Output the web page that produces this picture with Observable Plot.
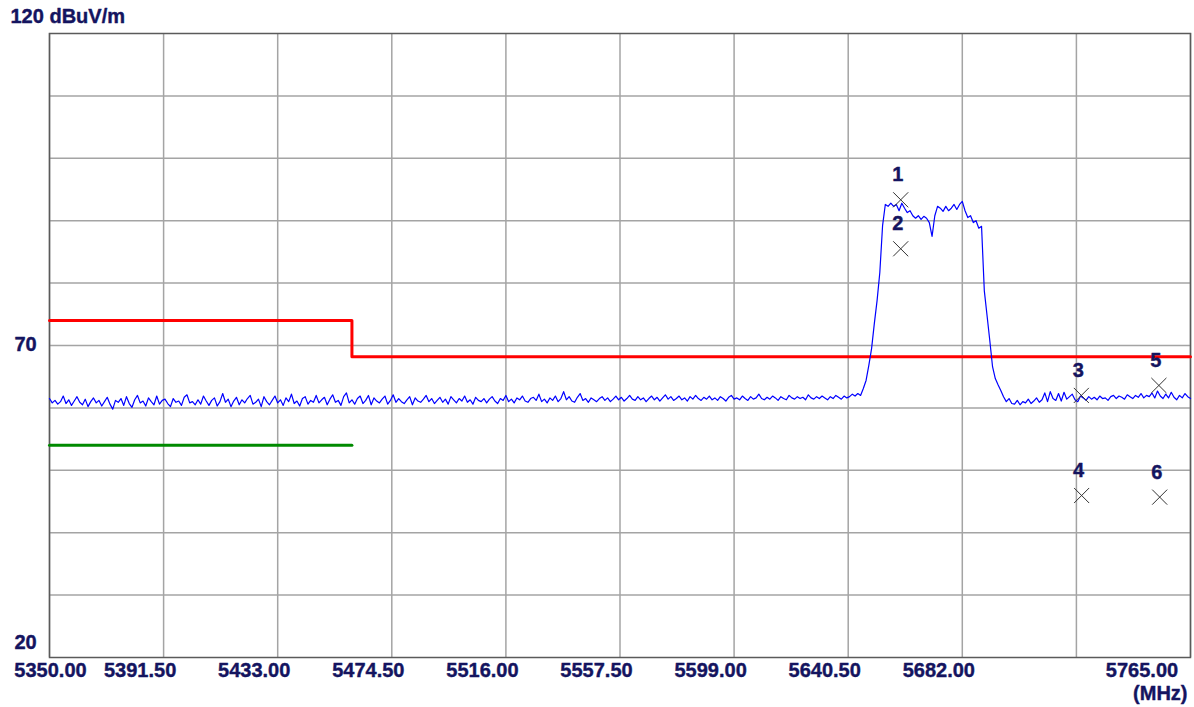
<!DOCTYPE html>
<html>
<head>
<meta charset="utf-8">
<script src="https://cdn.jsdelivr.net/npm/d3@7"></script>
<script src="https://cdn.jsdelivr.net/npm/@observablehq/plot@0.6"></script>
<style>
  html, body { margin: 0; padding: 0; background: #ffffff; }
  #chart svg { display: block; }
</style>
</head>
<body>
<div id="chart"></div>
<script>
// ---- data ----
const freqStart = 5350;   // MHz, first trace sample
const freqStep = 1;       // MHz between trace samples

// trace level (dBuV/m) 5350 .. 5644 MHz
const noiseLow = [
  61.5,60.8,61.2,60.6,61.0,61.9,60.7,61.3,60.4,61.1,61.8,60.9,60.5,61.4,60.2,61.0,61.6,60.8,61.2,60.3,
  61.0,61.7,60.6,59.8,61.2,60.9,61.5,60.4,61.8,60.7,60.1,61.3,62.0,60.8,61.1,60.3,61.6,61.0,60.5,61.9,
  60.6,61.2,61.4,60.7,60.2,61.5,60.9,61.1,60.4,61.7,62.1,60.8,61.0,60.5,61.3,60.6,61.9,61.1,60.4,61.2,
  61.6,60.3,61.0,62.3,60.9,61.4,60.2,61.1,61.7,60.5,61.3,60.8,61.5,62.0,60.6,60.9,61.4,60.2,61.8,61.0,
  60.5,61.2,61.9,60.8,61.3,60.4,61.6,61.0,62.2,60.7,61.1,60.3,61.5,61.8,60.6,61.2,60.9,62.0,60.8,61.3,
  61.7,60.5,61.4,62.1,60.9,61.2,60.4,61.8,62.4,60.8,61.3,60.6,61.5,61.9,60.7,61.2,62.0,60.5,61.6,61.1,
  60.8,61.4,61.9,60.6,61.2,62.1,60.9,61.5,61.0,60.7,61.3,61.8,60.5,61.6,61.1,60.9,61.4,62.0,61.0,61.5,
  60.7,61.2,61.7,60.9,61.4,60.6,61.8,61.3,60.8,61.5,61.1,61.9,60.9,61.3,60.6,61.7,61.2,61.0,61.5,60.8,
  61.4,61.8,61.1,60.7,61.5,61.2,62.0,61.0,61.4,60.8,61.6,61.3,61.9,61.1,60.9,61.5,61.7,61.2,62.2,61.0,
  61.4,60.8,61.6,61.2,61.9,61.0,61.5,62.6,61.3,61.8,61.1,60.9,61.7,62.3,61.2,61.5,60.9,61.6,61.3,61.0,
  61.5,61.8,61.2,61.6,61.0,61.4,61.9,61.3,61.7,61.1,61.5,62.0,61.4,61.2,61.8,61.3,61.6,61.0,61.5,61.9,
  61.3,61.7,61.1,61.6,62.1,61.4,61.8,61.2,61.5,61.9,61.3,61.6,61.1,61.8,61.4,62.0,61.5,61.2,61.7,61.4,
  61.9,61.3,61.6,61.2,61.8,61.5,61.1,61.7,62.0,61.4,61.6,61.3,61.9,61.5,61.2,61.8,61.4,61.6,62.2,61.5,
  61.3,61.7,61.4,61.9,61.6,61.2,61.8,61.5,61.3,62.0,61.6,61.4,61.8,61.5,61.7,61.3,62.1,61.6,61.4,61.8,
  61.5,61.9,61.6,61.3,61.8,61.5,62.0,61.7,61.4,61.9,61.6,61.8,62.2,61.9,62.3
];
// trace level 5645 .. 5700 MHz (emission)
const emission = [
  62.0,63.1,64.4,66.8,69.5,73.5,77.2,81.7,89.2,92.6,
  92.3,92.8,92.3,92.6,91.6,92.8,92.0,91.3,91.6,90.8,
  90.4,90.8,90.2,90.7,90.4,89.7,87.5,90.8,92.3,92.0,
  91.5,92.3,91.6,92.0,92.6,91.8,92.6,93.1,91.6,90.5,
  90.8,89.7,90.0,88.8,89.1,78.8,74.8,70.8,66.6,64.7,
  63.7,62.8,61.8,61.0,61.5,60.7
];
// trace level 5701 .. 5765 MHz
const noiseHigh = [
  60.6,61.2,60.5,61.0,60.8,61.4,60.7,61.1,61.6,60.9,61.3,62.4,61.0,62.6,61.5,61.2,62.3,61.1,62.5,61.4,
  61.8,62.2,61.3,61.0,61.9,61.6,61.2,61.8,61.4,61.7,61.3,61.9,61.5,61.6,61.2,61.8,62.0,61.5,61.9,61.7,
  61.4,62.1,61.8,61.5,62.0,61.7,62.3,61.6,62.0,61.8,62.4,61.6,62.7,61.9,61.5,62.2,61.6,62.5,61.7,61.3,
  62.0,61.6,62.3,61.8,61.5
];

// limit lines
const peakLimitFreq  = [5350, 5460, 5460, 5765];
const peakLimitLevel = [74, 74, 68.2, 68.2];
const avgLimitFreq   = [5350, 5460];
const avgLimitLevel  = [54, 54];

// markers
const markerNames = ["1", "2", "3", "4", "5", "6"];
const markerFreq  = [5659.6, 5659.6, 5725.3, 5725.4, 5753.5, 5753.8];
const markerLevel = [93.35, 85.5, 62.0, 45.96, 63.6, 45.7];

// axes
const xTicks = [5350, 5391.5, 5433, 5474.5, 5516, 5557.5, 5599, 5640.5, 5682, 5723.5, 5765];
const xTickLabels = [5350, 5391.5, 5433, 5474.5, 5516, 5557.5, 5599, 5640.5, 5682, 5765];
const yGrid = [30, 40, 50, 60, 70, 80, 90, 100, 110];
const yLabels = [70, 20];
const yUnit = "120 dBuV/m";
const xUnit = "(MHz)";

// ---- build ----
const levels = noiseLow.concat(emission, noiseHigh);
const trace = levels.map((v, i) => ({f: freqStart + i * freqStep, v}));
const peakLimit = peakLimitFreq.map((f, i) => ({f, v: peakLimitLevel[i]}));
const avgLimit = avgLimitFreq.map((f, i) => ({f, v: avgLimitLevel[i]}));
const markers = markerNames.map((n, i) => ({n, f: markerFreq[i], v: markerLevel[i]}));

const navy = "#14145f";
const font = "'Liberation Sans', Arial, sans-serif";
const lbl = {fontSize: 20, fontWeight: "bold", fill: navy, stroke: navy, strokeWidth: 0.4};

const xFirst = xTickLabels.filter(d => d === xTicks[0]);
const xLast = xTickLabels.filter(d => d === xTicks[xTicks.length - 1]);
const xMid = xTickLabels.filter(d => d !== xTicks[0] && d !== xTicks[xTicks.length - 1]);

const chart = Plot.plot({
  width: 1194,
  height: 707,
  marginLeft: 49,
  marginRight: 4,
  marginTop: 33,
  marginBottom: 50,
  style: {fontFamily: font, background: "#ffffff"},
  x: {domain: [5350, 5765], axis: null},
  y: {domain: [20, 120], axis: null},
  marks: [
    Plot.ruleX(xTicks, {stroke: "#a4a4a4", strokeWidth: 1.5}),
    Plot.ruleY(yGrid, {stroke: "#a4a4a4", strokeWidth: 1.5}),
    Plot.frame({stroke: "#5a5a5a", strokeWidth: 1.5}),
    Plot.line(avgLimit, {x: "f", y: "v", stroke: "#008a00", strokeWidth: 3}),
    Plot.line(peakLimit, {x: "f", y: "v", stroke: "#ff0000", strokeWidth: 3}),
    Plot.line(trace, {x: "f", y: "v", stroke: "#0000ff", strokeWidth: 1.2}),
    Plot.dot(markers, {x: "f", y: "v", symbol: "times", r: 6.9, stroke: "#333333", strokeWidth: 1}),
    Plot.text(markers, {x: "f", y: "v", text: "n", dx: -3, dy: -25, ...lbl}),
    // x tick labels
    Plot.text(xMid, {x: d => d, y: () => 20, text: d => d.toFixed(2), dx: -23.5, dy: 13, ...lbl}),
    Plot.text(xFirst, {x: d => d, y: () => 20, text: d => d.toFixed(2), dx: 1, dy: 13, ...lbl}),
    Plot.text(xLast, {x: d => d, y: () => 20, text: d => d.toFixed(2), dx: -48.5, dy: 13, ...lbl}),
    Plot.text([xUnit], {x: () => 5765, y: () => 20, text: d => d, textAnchor: "end", dx: -3, dy: 36, ...lbl}),
    // y labels
    Plot.text(yLabels.filter(d => d !== 20), {x: () => 5350, y: d => d, text: d => String(d), dx: -24, dy: -1, ...lbl}),
    Plot.text(yLabels.filter(d => d === 20), {x: () => 5350, y: d => d, text: d => String(d), dx: -24, dy: -15, ...lbl}),
    Plot.text([yUnit], {x: () => 5350, y: () => 120, text: d => d, textAnchor: "start", dx: -39, dy: -17, ...lbl})
  ]
});
document.getElementById("chart").append(chart);
</script>
</body>
</html>
